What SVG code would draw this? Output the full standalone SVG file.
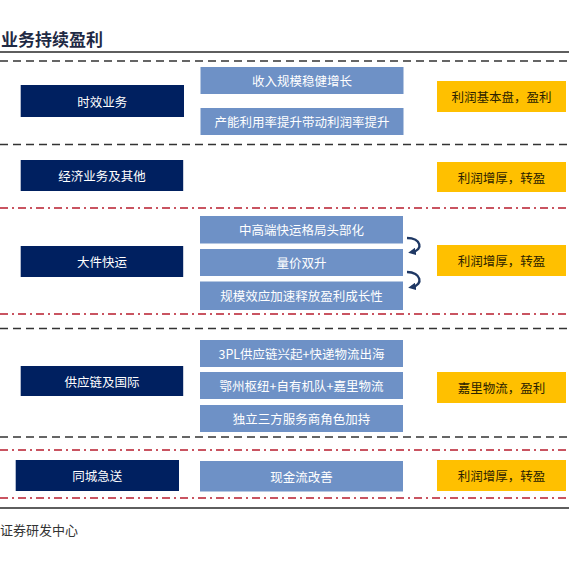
<svg xmlns="http://www.w3.org/2000/svg" width="569" height="569" viewBox="0 0 569 569">
<defs>
<style>
.t{font-family:"Noto Sans CJK SC","Noto Sans",sans-serif;font-size:12.5px;text-anchor:middle;dominant-baseline:central}
.dk{fill:#002060}
.lb{fill:#6E91C6}
.yl{fill:#FFC000}
.wt{fill:#FFFFFF}
.bt{fill:#2B2200}
.blk{stroke:#333333;stroke-width:1.6;stroke-dasharray:8 5;fill:none}
.red{stroke:#B81D2E;stroke-width:1.6;stroke-dasharray:8 4 2 4;fill:none}
.gry{stroke:#5E5E5E;stroke-width:2.2;fill:none}
.arr{stroke:#1F3864;stroke-width:2.4;fill:none;marker-end:url(#ah)}
</style>
<marker id="ah" viewBox="0 0 10 10" refX="5" refY="5" markerWidth="3.2" markerHeight="3.2" orient="auto">
<path d="M0,0 L10,5 L0,10 z" fill="#1F3864"/>
</marker>
</defs>
<rect width="569" height="569" fill="#FFFFFF"/>
<text x="1" y="46" style="font-family:'Noto Sans CJK SC',sans-serif;font-size:17px;font-weight:bold;fill:#1F2A44">业务持续盈利</text>
<g id="separators">
<line class="gry" x1="0" y1="52" x2="569" y2="52"/>
<line class="blk" x1="0" y1="61" x2="569" y2="61"/>
<line class="blk" x1="0" y1="144.5" x2="569" y2="144.5"/>
<line class="red" x1="0" y1="208" x2="569" y2="208"/>
<line class="red" x1="0" y1="314" x2="569" y2="314"/>
<line class="blk" x1="0" y1="328.5" x2="569" y2="328.5"/>
<line class="blk" x1="0" y1="437" x2="569" y2="437"/>
<line class="red" x1="0" y1="450" x2="569" y2="450"/>
<line class="red" x1="0" y1="498" x2="569" y2="498"/>
<line class="gry" x1="0" y1="508" x2="569" y2="508"/>
</g>
<g id="row1">
<g id="n-shixiao"><rect class="dk" x="20.7" y="85" width="163.3" height="32"/><text class="t wt" x="102.3" y="101">时效业务</text></g>
<g id="n-r1a"><rect class="lb" x="200.5" y="67" width="203" height="27"/><text class="t wt" x="302" y="80.5">收入规模稳健增长</text></g>
<g id="n-r1b"><rect class="lb" x="200.5" y="108" width="203" height="27"/><text class="t wt" x="302" y="121.5">产能利用率提升带动利润率提升</text></g>
<g id="n-r1y"><rect class="yl" x="437" y="81" width="129" height="31"/><text class="t bt" x="501.5" y="96.5">利润基本盘，盈利</text></g>
</g>
<g id="row2">
<g id="n-jingji"><rect class="dk" x="20.7" y="160" width="162.5" height="31"/><text class="t wt" x="102" y="175.5">经济业务及其他</text></g>
<g id="n-r2y"><rect class="yl" x="437" y="162" width="129" height="30"/><text class="t bt" x="501.5" y="177">利润增厚，转盈</text></g>
</g>
<g id="row3">
<g id="n-dajian"><rect class="dk" x="20.7" y="246" width="162.5" height="31"/><text class="t wt" x="102" y="261.5">大件快运</text></g>
<g id="n-r3a"><rect class="lb" x="200" y="216" width="203" height="27.5"/><text class="t wt" x="301.5" y="229.7">中高端快运格局头部化</text></g>
<g id="n-r3b"><rect class="lb" x="200" y="249" width="203" height="27"/><text class="t wt" x="301.5" y="262.5">量价双升</text></g>
<g id="n-r3c"><rect class="lb" x="200" y="281.5" width="203" height="28.5"/><text class="t wt" x="301.5" y="295.7">规模效应加速释放盈利成长性</text></g>
<g id="n-r3y"><rect class="yl" x="437" y="245" width="129" height="31"/><text class="t bt" x="501.5" y="260.5">利润增厚，转盈</text></g>
</g>
<g id="row4">
<g id="n-gongying"><rect class="dk" x="20.7" y="366" width="162.5" height="30"/><text class="t wt" x="102" y="381">供应链及国际</text></g>
<g id="n-r4a"><rect class="lb" x="200" y="340" width="203" height="27"/><text class="t wt" x="301.5" y="353.5">3PL供应链兴起+快递物流出海</text></g>
<g id="n-r4b"><rect class="lb" x="200" y="372" width="203" height="27"/><text class="t wt" x="301.5" y="385.5">鄂州枢纽+自有机队+嘉里物流</text></g>
<g id="n-r4c"><rect class="lb" x="200" y="405" width="203" height="27"/><text class="t wt" x="301.5" y="418.5">独立三方服务商角色加持</text></g>
<g id="n-r4y"><rect class="yl" x="437" y="372" width="129" height="31"/><text class="t bt" x="501.5" y="387.5">嘉里物流，盈利</text></g>
</g>
<g id="row5">
<g id="n-tongcheng"><rect class="dk" x="15.7" y="460" width="163.3" height="31"/><text class="t wt" x="97.3" y="475.5">同城急送</text></g>
<g id="n-r5a"><rect class="lb" x="200" y="461" width="203" height="30.5"/><text class="t wt" x="301.5" y="476.2">现金流改善</text></g>
<g id="n-r5y"><rect class="yl" x="437" y="460" width="129" height="31"/><text class="t bt" x="501.5" y="475.5">利润增厚，转盈</text></g>
</g>
<g id="connectors">
<path class="arr" d="M407,238 C421,238 424,250 412,252"/>
<path class="arr" d="M407,272 C421,272 424,285 412,287"/>
</g>
<text x="0" y="535" style="font-family:'Noto Sans CJK SC',sans-serif;font-size:13px;fill:#333333">证券研发中心</text>
</svg>
